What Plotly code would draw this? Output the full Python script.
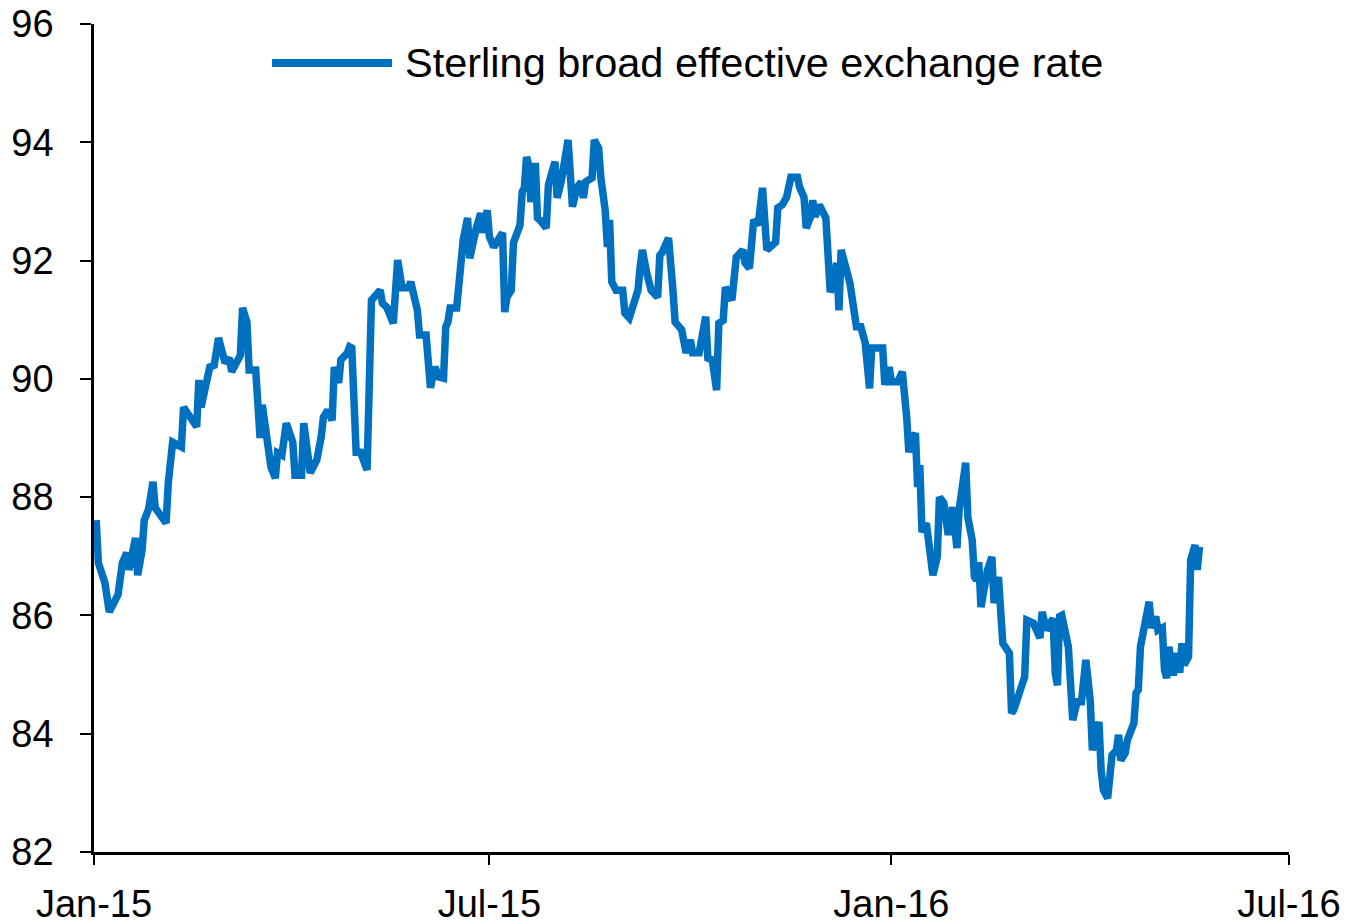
import plotly.graph_objects as go

dates = [
    "2015-01-02", "2015-01-03", "2015-01-06", "2015-01-07", "2015-01-08", "2015-01-12", "2015-01-14",
    "2015-01-16", "2015-01-17", "2015-01-20", "2015-01-21", "2015-01-23", "2015-01-24", "2015-01-26",
    "2015-01-27", "2015-01-28", "2015-01-29", "2015-02-03", "2015-02-04", "2015-02-06", "2015-02-10",
    "2015-02-11", "2015-02-17", "2015-02-18", "2015-02-19", "2015-02-23", "2015-02-25", "2015-02-27",
    "2015-03-02", "2015-03-04", "2015-03-05", "2015-03-09", "2015-03-10", "2015-03-12", "2015-03-13",
    "2015-03-16", "2015-03-17", "2015-03-18", "2015-03-19", "2015-03-23", "2015-03-25", "2015-03-26",
    "2015-03-28", "2015-03-30", "2015-04-02", "2015-04-03", "2015-04-06", "2015-04-07", "2015-04-10",
    "2015-04-13", "2015-04-15", "2015-04-16", "2015-04-18", "2015-04-20", "2015-04-21", "2015-04-23",
    "2015-04-24", "2015-04-27", "2015-04-28", "2015-04-29", "2015-05-01", "2015-05-03", "2015-05-06",
    "2015-05-08", "2015-05-12", "2015-05-13", "2015-05-15", "2015-05-18", "2015-05-20", "2015-05-22",
    "2015-05-25", "2015-05-26", "2015-05-29", "2015-05-30", "2015-06-02", "2015-06-04", "2015-06-06",
    "2015-06-08", "2015-06-10", "2015-06-11", "2015-06-12", "2015-06-13", "2015-06-16", "2015-06-17",
    "2015-06-18", "2015-06-19", "2015-06-21", "2015-06-22", "2015-06-25", "2015-06-27", "2015-06-28",
    "2015-06-30", "2015-07-01", "2015-07-03", "2015-07-07", "2015-07-08", "2015-07-09", "2015-07-11",
    "2015-07-12", "2015-07-15", "2015-07-16", "2015-07-17", "2015-07-18", "2015-07-19", "2015-07-20",
    "2015-07-22", "2015-07-23", "2015-07-24", "2015-07-27", "2015-07-28", "2015-07-31", "2015-08-01",
    "2015-08-03", "2015-08-06", "2015-08-08", "2015-08-10", "2015-08-12", "2015-08-13", "2015-08-14",
    "2015-08-17", "2015-08-18", "2015-08-20", "2015-08-21", "2015-08-23", "2015-08-24", "2015-08-25",
    "2015-08-26", "2015-08-28", "2015-08-31", "2015-09-01", "2015-09-03", "2015-09-05", "2015-09-07",
    "2015-09-08", "2015-09-09", "2015-09-11", "2015-09-13", "2015-09-16", "2015-09-17", "2015-09-18",
    "2015-09-21", "2015-09-23", "2015-09-24", "2015-09-27", "2015-09-29", "2015-10-01", "2015-10-02",
    "2015-10-05", "2015-10-08", "2015-10-09", "2015-10-11", "2015-10-13", "2015-10-14", "2015-10-16",
    "2015-10-17", "2015-10-20", "2015-10-22", "2015-10-25", "2015-10-26", "2015-10-28", "2015-10-29",
    "2015-10-30", "2015-11-01", "2015-11-03", "2015-11-05", "2015-11-09", "2015-11-10", "2015-11-12",
    "2015-11-14", "2015-11-16", "2015-11-19", "2015-11-20", "2015-11-22", "2015-11-23", "2015-11-25",
    "2015-11-26", "2015-11-27", "2015-11-29", "2015-12-02", "2015-12-03", "2015-12-04", "2015-12-05",
    "2015-12-07", "2015-12-08", "2015-12-09", "2015-12-13", "2015-12-14", "2015-12-16", "2015-12-18",
    "2015-12-20", "2015-12-22", "2015-12-23", "2015-12-28", "2015-12-29", "2015-12-31", "2016-01-01",
    "2016-01-04", "2016-01-06", "2016-01-08", "2016-01-09", "2016-01-10", "2016-01-12", "2016-01-13",
    "2016-01-14", "2016-01-15", "2016-01-17", "2016-01-20", "2016-01-22", "2016-01-23", "2016-01-25",
    "2016-01-27", "2016-01-29", "2016-01-31", "2016-02-01", "2016-02-04", "2016-02-05", "2016-02-07",
    "2016-02-08", "2016-02-09", "2016-02-10", "2016-02-11", "2016-02-14", "2016-02-16", "2016-02-17",
    "2016-02-19", "2016-02-21", "2016-02-24", "2016-02-25", "2016-02-26", "2016-03-02", "2016-03-03",
    "2016-03-06", "2016-03-09", "2016-03-10", "2016-03-12", "2016-03-15", "2016-03-16", "2016-03-17",
    "2016-03-18", "2016-03-19", "2016-03-22", "2016-03-24", "2016-03-26", "2016-03-28", "2016-03-30",
    "2016-04-01", "2016-04-02", "2016-04-04", "2016-04-05", "2016-04-06", "2016-04-07", "2016-04-09",
    "2016-04-11", "2016-04-13", "2016-04-14", "2016-04-15", "2016-04-17", "2016-04-18", "2016-04-21",
    "2016-04-22", "2016-04-23", "2016-04-24", "2016-04-28", "2016-04-29", "2016-05-01", "2016-05-02",
    "2016-05-04", "2016-05-05", "2016-05-06", "2016-05-07", "2016-05-09", "2016-05-11", "2016-05-12",
    "2016-05-13", "2016-05-14", "2016-05-16", "2016-05-17", "2016-05-19", "2016-05-20", "2016-05-21",
]

sterling_eer = [
    87.61, 86.89, 86.55, 86.12, 86.06, 86.35, 86.89,
    87.06, 86.77, 87.31, 86.68, 87.10, 87.61, 87.80,
    88.09, 88.26, 87.82, 87.56, 88.24, 88.93, 88.85,
    89.52, 89.19, 89.98, 89.52, 90.20, 90.23, 90.69,
    90.27, 90.35, 90.12, 90.40, 91.20, 90.96, 90.15,
    90.15, 89.59, 89.00, 89.56, 88.51, 88.32, 88.75,
    88.71, 89.25, 88.93, 88.37, 88.37, 89.25, 88.41,
    88.63, 89.02, 89.35, 89.47, 89.30, 90.20, 89.93,
    90.32, 90.44, 90.54, 90.52, 88.76, 88.76, 88.46,
    91.33, 91.50, 91.28, 91.21, 90.94, 92.01, 91.54,
    91.54, 91.64, 91.16, 90.74, 90.74, 89.85, 90.20,
    90.03, 90.01, 90.88, 90.96, 91.20, 91.20, 91.72,
    92.01, 92.35, 92.72, 92.04, 92.55, 92.80, 92.47,
    92.85, 92.40, 92.23, 92.47, 91.13, 91.38, 91.50,
    92.30, 92.60, 93.16, 93.23, 93.75, 93.62, 92.99,
    93.65, 92.72, 92.69, 92.55, 93.28, 93.67, 93.06,
    93.36, 94.04, 92.91, 93.23, 93.33, 93.06, 93.33,
    93.40, 94.04, 93.90, 93.40, 92.85, 92.23, 92.69,
    91.64, 91.50, 91.50, 91.11, 91.03, 91.25, 91.50,
    91.89, 92.18, 91.79, 91.50, 91.38, 92.09, 92.13,
    92.38, 91.50, 90.96, 90.83, 90.44, 90.66, 90.44,
    90.44, 91.05, 90.35, 90.32, 89.81, 90.94, 90.99,
    91.55, 91.33, 92.06, 92.18, 91.96, 91.87, 92.30,
    92.69, 92.60, 93.23, 92.18, 92.31, 92.89, 92.94,
    93.07, 93.41, 93.41, 93.24, 93.07, 92.55, 92.74,
    93.02, 92.74, 92.94, 92.72, 92.18, 91.47, 91.55,
    91.96, 91.16, 92.18, 91.62, 91.37, 90.88, 90.88,
    90.61, 89.84, 90.52, 90.52, 89.90, 90.20, 89.95,
    89.95, 90.12, 89.35, 88.76, 88.93, 89.08, 88.17,
    88.54, 87.41, 87.56, 86.68, 86.99, 88.00, 87.90,
    87.36, 87.83, 87.14, 87.78, 88.58, 87.66, 87.27,
    86.65, 86.60, 86.90, 86.14, 86.77, 86.99, 86.21,
    86.65, 85.53, 85.36, 84.35, 84.40, 84.96, 85.92,
    85.87, 85.62, 86.06, 85.75, 85.95, 85.02, 84.82,
    85.98, 86.00, 85.47, 84.23, 84.54, 84.54, 85.25,
    84.57, 83.72, 84.15, 84.20, 83.39, 83.05, 82.91,
    83.64, 83.72, 83.98, 83.55, 83.67, 83.89, 84.18,
    84.69, 84.74, 85.47, 86.23, 85.79, 85.98, 85.75,
    85.79, 85.08, 84.94, 85.47, 84.99, 85.36, 85.03,
    85.53, 85.16, 85.30, 86.94, 87.19, 86.77, 87.16,
]

series_name = "Sterling broad effective exchange rate"
x_range = ["2015-01-01", "2016-07-01"]
x_tick_dates = ["2015-01-01", "2015-07-01", "2016-01-01", "2016-07-01"]
x_tick_labels = ["Jan-15", "Jul-15", "Jan-16", "Jul-16"]
y_ticks = [82, 84, 86, 88, 90, 92, 94, 96]

LINE_COLOR = "#0070C0"
FONT = "Arial, Liberation Sans, sans-serif"

fig = go.Figure()
fig.add_trace(go.Scatter(
    x=dates, y=sterling_eer, mode="lines", name=series_name,
    line=dict(color=LINE_COLOR, width=7.5), showlegend=False,
))

fig.update_layout(
    width=1356, height=924,
    margin=dict(l=94, r=67, t=24, b=72, autoexpand=False),
    paper_bgcolor="white", plot_bgcolor="white",
    font=dict(family=FONT, color="black", size=38),
    xaxis=dict(
        type="date", range=x_range, tickvals=x_tick_dates, ticktext=x_tick_labels,
        showgrid=False, zeroline=False, showline=True, linecolor="black", linewidth=3,
        ticks="outside", ticklen=10, tickwidth=2, tickcolor="black",
        tickfont=dict(size=38), ticklabelstandoff=6, automargin=False,
    ),
    yaxis=dict(
        range=[82, 96], tickvals=y_ticks,
        showgrid=False, zeroline=False, showline=True, linecolor="black", linewidth=2.5,
        ticks="outside", ticklen=11, tickwidth=2, tickcolor="black",
        tickfont=dict(size=38), ticklabelstandoff=19, automargin=False,
    ),
    showlegend=False,
)

# legend key drawn manually (long Excel-style key)
fig.add_shape(type="line", xref="paper", yref="paper",
              x0=0.149, x1=0.2494, y0=0.9529, y1=0.9529,
              line=dict(color=LINE_COLOR, width=8))
fig.add_annotation(xref="paper", yref="paper", x=0.2586, y=0.9529,
                   xanchor="left", yanchor="middle", showarrow=False,
                   text=series_name, font=dict(size=41.5, family=FONT, color="black"))

fig.write_html("out.html")
